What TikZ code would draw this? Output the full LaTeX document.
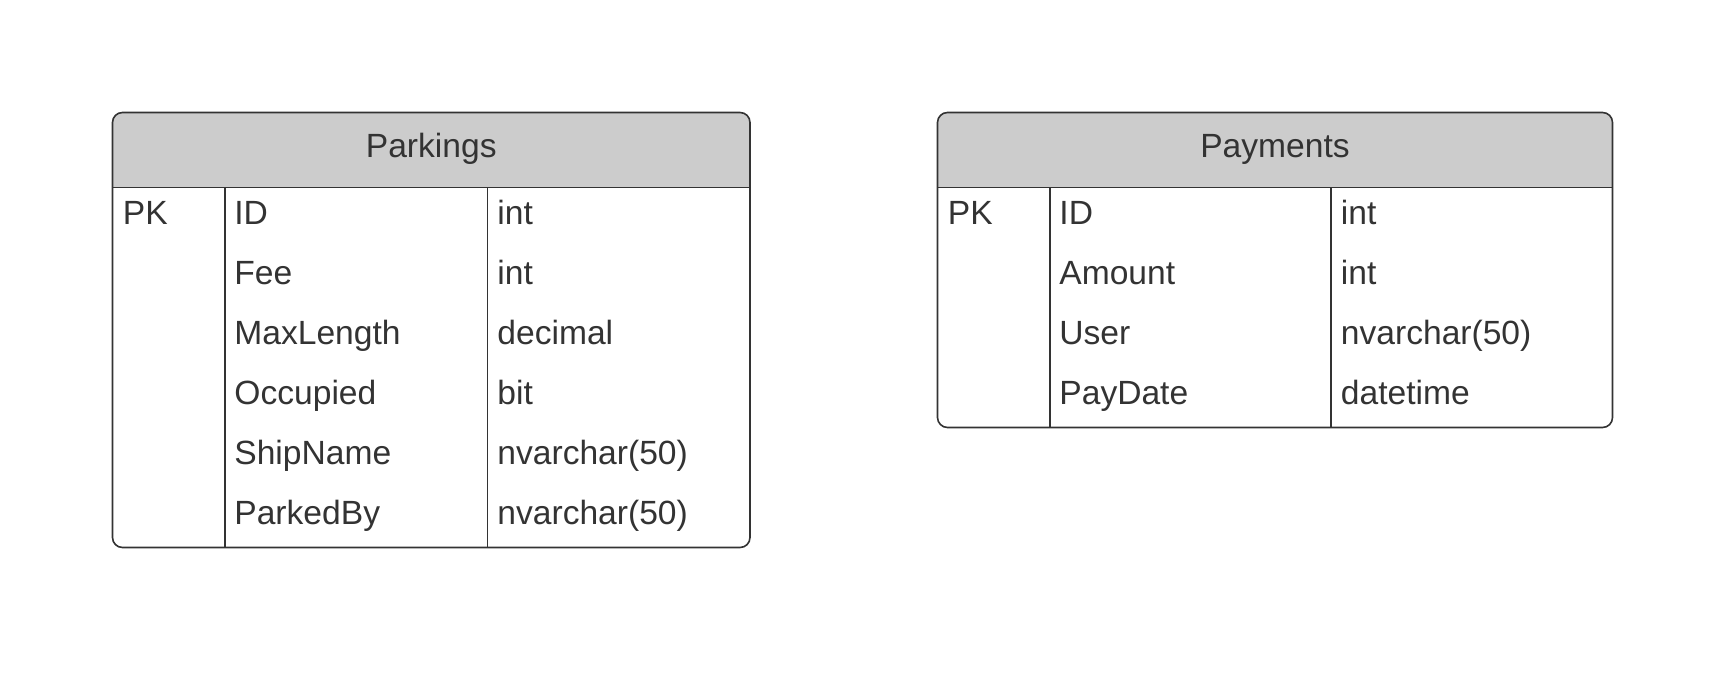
\documentclass[tikz,border=0pt]{standalone}
\usepackage{fontspec}
\setmainfont{Liberation Sans}
\usepackage{tikz}
\usetikzlibrary{positioning}
\definecolor{inkgray}{HTML}{333333}
\definecolor{hdrgray}{HTML}{CCCCCC}
\tikzset{
tbl_line/.style = {draw=inkgray, line width=0.8pt},% cadre et traits
tbl_hdr/.style  = {fill=hdrgray},% bandeau du titre
tbl_title/.style = {inner sep=0pt, anchor=base, text=inkgray, font=\fontsize{16.8}{20}\selectfont},
tbl_cell/.style  = {inner sep=0pt, anchor=base west, text=inkgray, font=\fontsize{16.8}{20}\selectfont}
}
\begin{document}
\begin{tikzpicture}[x=0.5pt, y=-0.5pt]
  \useasboundingbox (0,0) rectangle (1729,694);
  % table Parkings
  \begin{scope}
    \clip [rounded corners=5pt] (112.5,112.5) rectangle (750,547.5);
    \fill [tbl_hdr] (112.5,112.5) rectangle (750,187.5);
  \end{scope}
  \draw [tbl_line, rounded corners=5pt] (112.5,112.5) rectangle (750,547.5);
  \draw [tbl_line] (112.5,187.5) -- (750,187.5)
    (225,187.5) -- (225,547.5)
    (487.5,187.5) -- (487.5,547.5);
  \node [tbl_title] (pk_title) at (431.25,157.5) {Parkings};
  \node [tbl_cell] (pk_key) at (122.5,225) {PK};
  \foreach \n/\f/\t in {1/ID/int, 2/Fee/int, 3/MaxLength/decimal, 4/Occupied/bit,
      5/ShipName/nvarchar(50), 6/ParkedBy/nvarchar(50)} {
    \node [tbl_cell] (pk_f\n) at (234,165+60*\n) {\f};
    \node [tbl_cell] (pk_t\n) at (497,165+60*\n) {\t};
  }
  % table Payments
  \begin{scope}
    \clip [rounded corners=5pt] (937.5,112.5) rectangle (1612.5,427.5);
    \fill [tbl_hdr] (937.5,112.5) rectangle (1612.5,187.5);
  \end{scope}
  \draw [tbl_line, rounded corners=5pt] (937.5,112.5) rectangle (1612.5,427.5);
  \draw [tbl_line] (937.5,187.5) -- (1612.5,187.5)
    (1050,187.5) -- (1050,427.5)
    (1331,187.5) -- (1331,427.5);
  \node [tbl_title] (pay_title) at (1275,157.5) {Payments};
  \node [tbl_cell] (pay_key) at (947.5,225) {PK};
  \foreach \n/\f/\t in {1/ID/int, 2/Amount/int, 3/User/nvarchar(50), 4/PayDate/datetime} {
    \node [tbl_cell] (pay_f\n) at (1059,165+60*\n) {\f};
    \node [tbl_cell] (pay_t\n) at (1340.5,165+60*\n) {\t};
  }
\end{tikzpicture}
\end{document}
